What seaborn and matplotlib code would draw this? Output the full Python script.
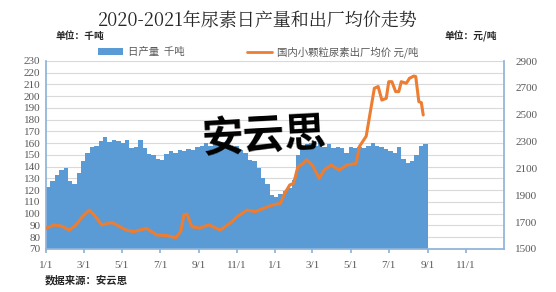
import matplotlib
matplotlib.use("Agg")
import matplotlib.pyplot as plt
import matplotlib.dates as mdates
from matplotlib.patches import Patch
from matplotlib.lines import Line2D
from matplotlib.ticker import FuncFormatter
import seaborn as sns
import pandas as pd

sns.set_theme(style="white")
plt.rcParams['font.family'] = ['Noto Sans CJK SC', 'DejaVu Sans']

# ---- data ----
title = "2020-2021年尿素日产量和出厂均价走势"
bar_label = "日产量  千吨"
line_label = "国内小颗粒尿素出厂均价 元/吨"
left_unit = "单位：千吨"
right_unit = "单位：元/吨"
source = "数据来源：安云思"
watermark = "安云思"

bar_start = "2020-01-01"
output_weekly = [123, 128, 133, 137, 139, 128, 125, 135, 145, 152, 157, 158, 162, 165,
                 161, 163, 162, 160, 163, 156, 157, 163, 156, 151, 150, 147, 146, 151,
                 153, 152, 154, 153, 155, 154, 157, 158, 160, 158, 160, 159, 161, 158,
                 156, 158, 154, 152, 146, 145, 139, 130, 125, 116, 114, 117, 119, 122,
                 129, 150, 155, 159, 160, 158, 161, 157, 159, 156, 157, 156, 152, 157,
                 156, 157, 156, 158, 160, 158, 157, 155, 153, 152, 157, 147, 143, 145,
                 150, 158, 159]

price_dates = ["2020-01-01", "2020-01-14", "2020-01-26", "2020-02-07", "2020-02-18",
               "2020-02-28", "2020-03-10", "2020-03-18", "2020-03-30", "2020-04-15",
               "2020-05-08", "2020-05-20", "2020-06-09", "2020-06-26", "2020-07-12",
               "2020-07-26", "2020-08-03", "2020-08-08", "2020-08-13", "2020-08-21",
               "2020-09-02", "2020-09-17", "2020-10-05", "2020-10-21", "2020-11-01",
               "2020-11-17", "2020-11-30", "2020-12-13", "2020-12-28", "2021-01-09",
               "2021-01-16", "2021-01-24", "2021-01-30", "2021-02-02", "2021-02-06",
               "2021-02-14", "2021-02-20", "2021-03-01", "2021-03-12", "2021-03-20",
               "2021-03-31", "2021-04-13", "2021-04-25", "2021-05-10", "2021-05-15",
               "2021-05-26", "2021-06-03", "2021-06-08", "2021-06-14", "2021-06-20",
               "2021-06-27", "2021-07-01", "2021-07-06", "2021-07-12", "2021-07-17",
               "2021-07-21", "2021-07-29", "2021-08-03", "2021-08-10", "2021-08-13",
               "2021-08-15", "2021-08-18", "2021-08-22", "2021-08-25"]
price_values = [1654, 1679, 1670, 1641, 1679, 1741, 1790, 1753, 1679, 1698,
                1641, 1629, 1654, 1604, 1600, 1584, 1629, 1753, 1760, 1666,
                1655, 1680, 1641, 1693, 1741, 1790, 1778, 1803, 1828, 1840,
                1915, 1977, 1989, 2040, 2113, 2135, 2163, 2125, 2026, 2088,
                2125, 2088, 2125, 2138, 2262, 2340, 2560, 2697, 2710, 2609,
                2622, 2746, 2746, 2672, 2672, 2746, 2734, 2771, 2788, 2784,
                2710, 2597, 2590, 2498]

left_ticks = list(range(70, 231, 10))
right_ticks = list(range(1500, 2901, 200))
x_range = ["2020-01-01", "2021-12-31"]

# ---- build ----
bar_dates = pd.date_range(bar_start, periods=len(output_weekly), freq="7D")
bar_x = mdates.date2num(bar_dates.to_pydatetime()) + 3.5
price_x = mdates.date2num(pd.to_datetime(price_dates).to_pydatetime())

blue = "#5B9BD5"
orange = "#ED7D31"
txt = "#595959"

fig = plt.figure(figsize=(5.56, 2.92), dpi=100)
ax = fig.add_axes([46/556, 1-249/292, (504-46)/556, (249-61)/292])

sns.barplot(x=bar_x, y=output_weekly, native_scale=True, width=1.0,
            color=blue, saturation=1, linewidth=0, ax=ax, zorder=2)
ax.set_ylim(70, 230)
ax.set_yticks(left_ticks)
ax.grid(axis='y', color="#D9D9D9", linewidth=0.8, zorder=0)
ax.set_axisbelow(True)

ax2 = ax.twinx()
sns.lineplot(x=price_x, y=price_values, ax=ax2, color=orange, linewidth=2.2, zorder=3)
ax2.set_ylim(1500, 2900)
ax2.set_yticks(right_ticks)

xl = mdates.date2num(pd.to_datetime(x_range).to_pydatetime())
ax.set_xlim(xl[0], xl[1] + 0.9)
ax.xaxis.set_major_locator(mdates.MonthLocator(bymonth=[1, 3, 5, 7, 9, 11]))
ax.xaxis.set_major_formatter(FuncFormatter(
    lambda v, p: f"{mdates.num2date(v).month}/{mdates.num2date(v).day}"))

for a in (ax, ax2):
    a.set_xlabel("")
    a.set_ylabel("")
    for s in a.spines.values():
        s.set_visible(False)
    a.tick_params(labelsize=8, colors=txt, labelfontfamily="Liberation Serif")

ax.spines['left'].set_visible(True)
ax.spines['left'].set_color("#8FB3D9")
ax.spines['bottom'].set_visible(True)
ax.spines['bottom'].set_color("#8FB3D9")
ax2.spines['right'].set_visible(True)
ax2.spines['right'].set_color("#8FB3D9")
ax.tick_params(axis='y', length=0, pad=4)
ax2.tick_params(axis='y', length=0, pad=8)
ax.tick_params(axis='x', length=3, color="#8FB3D9", direction='out', pad=6, bottom=True)

fig.text(258/556, 1-21/292, title, ha='center', va='center', fontsize=13,
         color="#262626", family=['Noto Serif CJK SC', 'Noto Sans CJK SC', 'DejaVu Sans'])
fig.text(55/556, 1-36/292, left_unit, ha='left', va='center', fontsize=7, color="#262626",
         fontweight='bold')
fig.text(497/556, 1-36/292, right_unit, ha='right', va='center', fontsize=7, color="#262626",
         fontweight='bold')
fig.text(45/556, 1-280/292, source, ha='left', va='center', fontsize=7.5, color="#262626",
         fontweight='bold')
fig.text(264/556, 1-137/292, watermark, ha='center', va='center', fontsize=30,
         color="black", rotation=3, zorder=10, fontweight='bold')

handles = [Patch(facecolor=blue, edgecolor='none'),
           Line2D([0], [0], color=orange, linewidth=2)]
fig.legend(handles, [bar_label, line_label], loc='center', ncol=2,
           bbox_to_anchor=(258/556, 1-52/292), frameon=False, fontsize=7.5,
           handlelength=2.4, handleheight=0.6, columnspacing=6, handletextpad=0.5,
           labelcolor=txt)

fig.savefig("out.png", dpi=100)
